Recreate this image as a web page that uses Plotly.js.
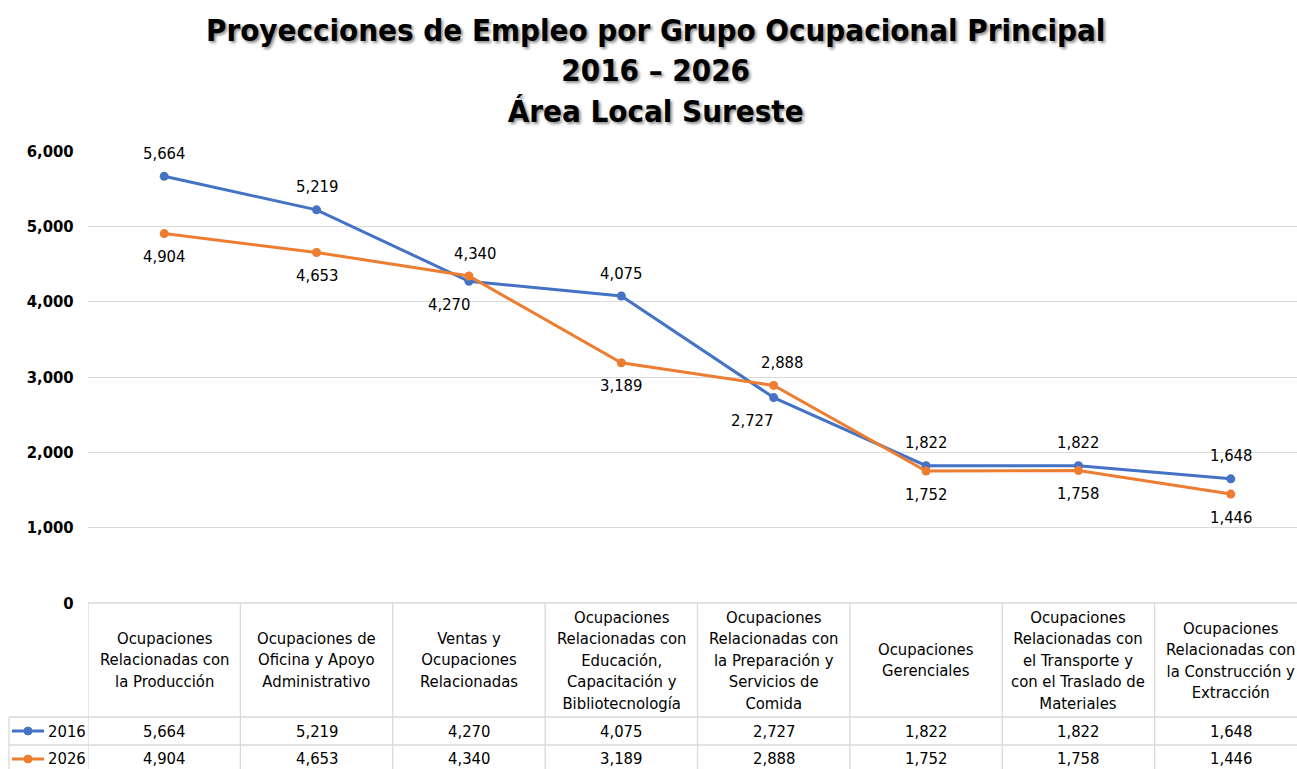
<!DOCTYPE html>
<html>
<head>
<meta charset="utf-8">
<script src="https://cdn.plot.ly/plotly-3.0.1.min.js"></script>
<style>
html,body{margin:0;padding:0;overflow:hidden;background:#fff;}
#chart{width:1310px;height:769px;}
</style>
</head>
<body>
<div id="chart"></div>
<script>
// ---- data ----
const categories = [
  "Ocupaciones<br>Relacionadas con<br>la Producción",
  "Ocupaciones de<br>Oficina y Apoyo<br>Administrativo",
  "Ventas y<br>Ocupaciones<br>Relacionadas",
  "Ocupaciones<br>Relacionadas con<br>Educación,<br>Capacitación y<br>Bibliotecnología",
  "Ocupaciones<br>Relacionadas con<br>la Preparación y<br>Servicios de<br>Comida",
  "Ocupaciones<br>Gerenciales",
  "Ocupaciones<br>Relacionadas con<br>el Transporte y<br>con el Traslado de<br>Materiales",
  "Ocupaciones<br>Relacionadas con<br>la Construcción y<br>Extracción"
];
const seriesNames = ["2016", "2026"];
const values2016 = [5664, 5219, 4270, 4075, 2727, 1822, 1822, 1648];
const values2026 = [4904, 4653, 4340, 3189, 2888, 1752, 1758, 1446];
const yTickVals = [0, 1000, 2000, 3000, 4000, 5000, 6000];

// ---- styling (not data) ----
const colors = ["#4472C4", "#ED7D31"];
// label placement: +1 above, -1 below ; horizontal nudge in px
const labelSide2016 = [1, 1, -1, 1, -1, 1, 1, 1];
const labelSide2026 = [-1, -1, 1, -1, 1, -1, -1, -1];
const labelNudge2016 = [0, 0, -20, 0, -22, 0, 0, 0];
const labelNudge2026 = [0, 0, 6, 0, 8, 0, 0, 0];

const FONT = "'DejaVu Sans Condensed', 'DejaVu Sans', sans-serif";
const W = 1310, H = 769;
const L = 88, T = 151, PB = 603; // plot area px
const PW = W - L - 3, PH = PB - T;
const px = v => (v - L) / PW;          // px -> paper x
const py = v => (PB - v) / PH;         // px -> paper y
const gridColor = "#D9D9D9";
const fmt = n => n.toLocaleString("en-US");

const allSeries = [values2016, values2026];
const sides = [labelSide2016, labelSide2026];
const nudges = [labelNudge2016, labelNudge2026];

const traces = allSeries.map((vals, s) => ({
  type: "scatter",
  mode: "lines+markers",
  x: categories,
  y: vals,
  name: seriesNames[s],
  line: {color: colors[s], width: 3},
  marker: {color: colors[s], size: 9},
  hoverinfo: "x+y",
  showlegend: false,
  cliponaxis: false
}));

const annotations = [];
// title (three lines)
annotations.push({
  xref: "paper", yref: "paper", x: px(655), y: py(10), xanchor: "center", yanchor: "top",
  text: "Proyecciones de Empleo por Grupo Ocupacional Principal<br>2016 – 2026<br>Área Local Sureste",
  showarrow: false, align: "center",
  font: {family: FONT, size: 31, weight: "bold", color: "#000", shadow: "2px 2px 3px rgba(0,0,0,0.45)"}
});
// data labels
allSeries.forEach((vals, s) => {
  vals.forEach((v, i) => {
    annotations.push({
      x: categories[i], y: v, xref: "x", yref: "y",
      text: fmt(v), showarrow: false,
      yshift: 23 * sides[s][i], xshift: nudges[s][i],
      font: {family: FONT, size: 16.5, color: "#000"}
    });
  });
});
// table header cells
categories.forEach((c, i) => {
  annotations.push({
    x: c, xref: "x", y: py(660), yref: "paper",
    text: c, showarrow: false, align: "center", valign: "middle",
    yanchor: "middle",
    font: {family: FONT, size: 16.5, color: "#000"}
  });
});
// table value rows
const rowY = [731, 759];
allSeries.forEach((vals, s) => {
  vals.forEach((v, i) => {
    annotations.push({
      x: categories[i], xref: "x", y: py(rowY[s]), yref: "paper",
      text: fmt(v), showarrow: false, yanchor: "middle",
      font: {family: FONT, size: 16.5, color: "#000"}
    });
  });
  annotations.push({
    x: px(46), xref: "paper", xanchor: "left", y: py(rowY[s]), yref: "paper",
    yanchor: "middle", text: seriesNames[s], showarrow: false,
    font: {family: FONT, size: 16.5, color: "#000"}
  });
});

const shapes = [];
const lineStyle = {color: gridColor, width: 1.3};
// horizontal table lines
shapes.push({type: "line", xref: "paper", yref: "paper", x0: 0, x1: 1.05, y0: py(603), y1: py(603), line: lineStyle});
[717, 745].forEach(yv => shapes.push({type: "line", xref: "paper", yref: "paper", x0: px(9), x1: 1.05, y0: py(yv), y1: py(yv), line: lineStyle}));
// vertical table lines at category boundaries
for (let k = 0; k <= categories.length; k++) {
  shapes.push({type: "line", xref: "x", yref: "paper", x0: k - 0.5, x1: k - 0.5, y0: py(603), y1: py(800), line: lineStyle});
}
shapes.push({type: "line", xref: "paper", yref: "paper", x0: px(9), x1: px(9), y0: py(717), y1: py(800), line: lineStyle});
// legend keys in table
rowY.forEach((yv, s) => {
  shapes.push({type: "line", xref: "paper", yref: "paper", x0: px(12), x1: px(44), y0: py(yv), y1: py(yv), line: {color: colors[s], width: 3}});
  shapes.push({type: "circle", xref: "paper", yref: "paper", x0: px(24), x1: px(32), y0: py(yv + 4), y1: py(yv - 4), fillcolor: colors[s], line: {color: colors[s], width: 1}});
});

const layout = {
  width: W, height: H,
  margin: {l: L, r: 3, t: T, b: H - PB, pad: 0},
  paper_bgcolor: "#fff", plot_bgcolor: "#fff",
  xaxis: {
    type: "category", range: [-0.5, categories.length - 0.5],
    showticklabels: false, showgrid: false, zeroline: false, showline: false, ticks: ""
  },
  yaxis: {
    range: [0, 6000], tickvals: yTickVals, ticktext: yTickVals.map(fmt),
    showgrid: true, gridcolor: gridColor, gridwidth: 1.3, zeroline: false, showline: false,
    ticks: "outside", ticklen: 10, tickcolor: "rgba(0,0,0,0)",
    tickfont: {family: FONT, size: 16.5, weight: "bold", color: "#000"}
  },
  showlegend: false,
  annotations: annotations,
  shapes: shapes,
  hovermode: "closest"
};

Plotly.newPlot("chart", traces, layout, {displayModeBar: false, responsive: false});
</script>
</body>
</html>
